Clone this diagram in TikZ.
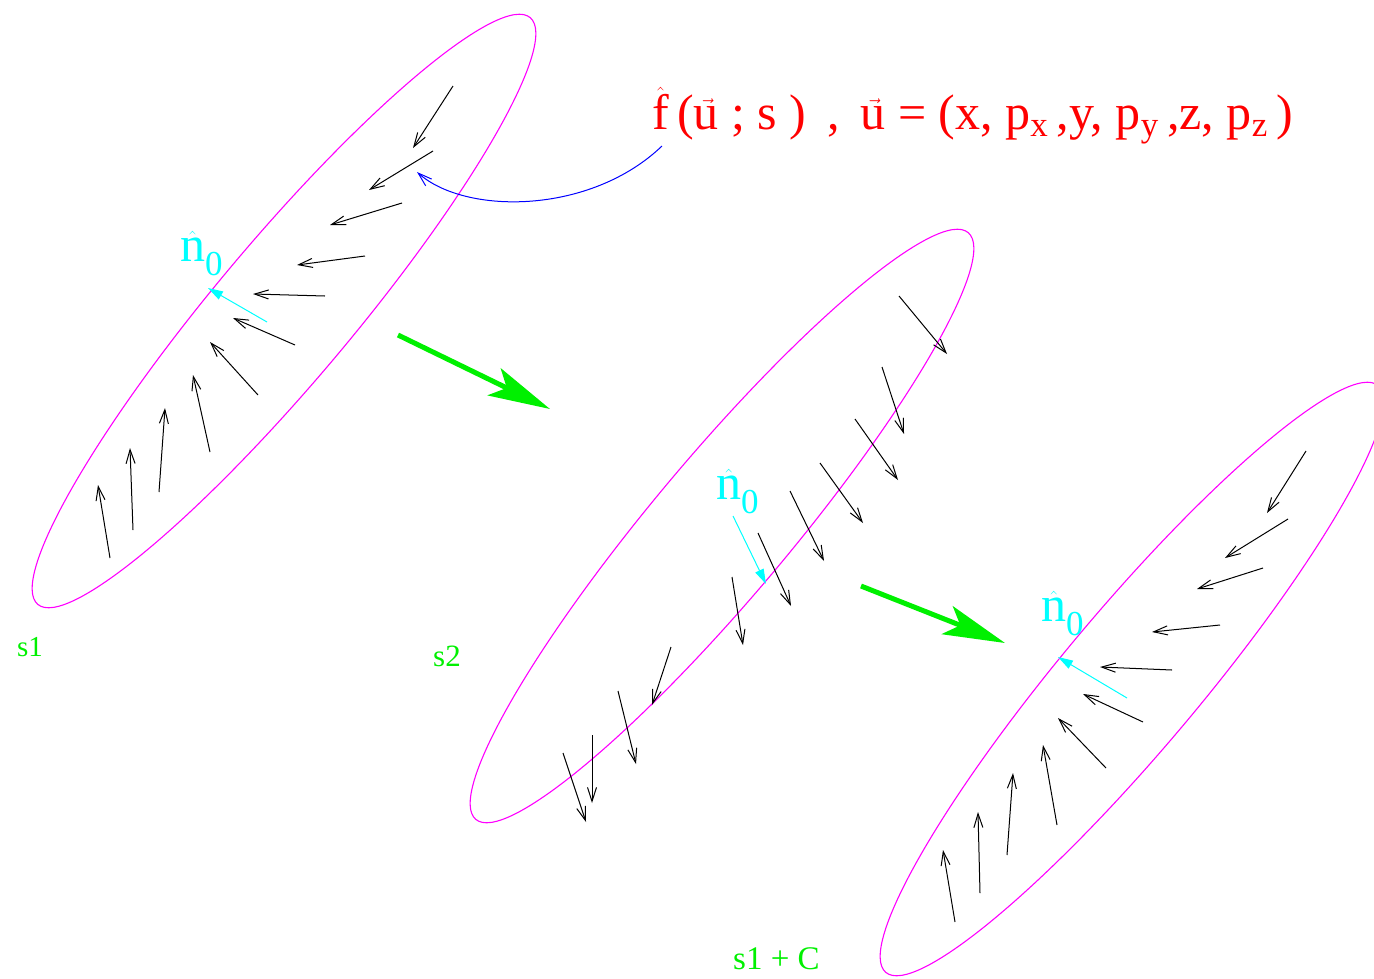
\documentclass[tikz,border=0pt]{standalone}
\usepackage{fontspec}
\setmainfont{Liberation Serif}
\usetikzlibrary{arrows.meta}

\definecolor{xgreen}{RGB}{0,240,0}
\definecolor{xmagenta}{RGB}{255,0,255}
\definecolor{xcyan}{RGB}{0,255,255}
\definecolor{xred}{RGB}{255,0,0}
\definecolor{xblue}{RGB}{0,0,255}

\begin{document}
\begin{tikzpicture}[x=1pt,y=-1pt,
  surface/.style={xmagenta,line width=1.1pt},
  fieldarrow/.style={line width=1pt,-{Straight Barb[length=14pt,width=9pt]}},
  normarrow/.style={xcyan,line width=1pt,-{Triangle[length=15pt,width=9pt]}},
  flowarrow/.style={xgreen,line width=5pt,-{Stealth[length=62pt,width=30pt,inset=14pt]}},
  normlabel/.style={xcyan,anchor=base west,inner sep=0pt,font=\fontsize{50}{60}\selectfont},
  slabel/.style={xgreen,anchor=base west,inner sep=0pt}]
\clip (0,0) rectangle (1374,978);

% the three surfaces
\draw[surface,rotate around={50:(284,311)}] (284,311) ellipse [x radius=383,y radius=69];
\draw[surface,rotate around={50:(722,526)}] (722,526) ellipse [x radius=383,y radius=69];
\draw[surface,rotate around={50:(1132,679)}] (1132,679) ellipse [x radius=383,y radius=69];

% field on s1
\foreach \xa/\ya/\xb/\yb in {453/86/413/148, 433/151/369/190, 402/203/330/225,
  365/256/297/265, 325/296/253/294, 295/345/233/318, 258/395/210/342,
  210/452/193/375, 159/492/165/408, 133/530/130/448, 110/558/98/485}
  \draw[fieldarrow] (\xa,\ya) -- (\xb,\yb);
\draw[normarrow] (267,322) -- (208,288);
\node[normlabel] (nzero1) at (180,261) {$\hat{\mathrm{n}}_{\mathrm{0}}$};

% field on s2
\foreach \xa/\ya/\xb/\yb in {899/296/947/354, 882/367/904/434, 855/419/898/480,
  820/463/863/523, 790/491/824/561, 758/533/791/606, 732/577/743/645,
  671/647/652/705, 618/691/636/764, 592/735/592/803, 563/753/586/822}
  \draw[fieldarrow] (\xa,\ya) -- (\xb,\yb);
\draw[normarrow] (733,516) -- (766,584);
\node[normlabel] (nzero2) at (716,499) {$\hat{\mathrm{n}}_{\mathrm{0}}$};

% field on s1 + C
\foreach \xa/\ya/\xb/\yb in {1306/451/1267/513, 1288/519/1225/558, 1263/568/1197/589,
  1220/625/1152/632, 1172/670/1100/667, 1143/722/1083/694, 1106/768/1058/718,
  1057/825/1043/745, 1007/855/1013/773, 980/893/978/812, 955/922/943/850}
  \draw[fieldarrow] (\xa,\ya) -- (\xb,\yb);
\draw[normarrow] (1127,698) -- (1058,657);
\node[normlabel] (nzero3) at (1041,621) {$\hat{\mathrm{n}}_{\mathrm{0}}$};

% flow between surfaces
\coordinate (flow1a) at (398,335);
\coordinate (flow1b) at (550,409);
\coordinate (flow2a) at (861,586);
\coordinate (flow2b) at (1005,643);
\draw[flowarrow] (flow1a) -- (flow1b);
\draw[flowarrow] (flow2a) -- (flow2b);

% labels
\node[slabel,font=\fontsize{29}{34}\selectfont] (sone) at (17,656) {s1};
\node[slabel,font=\fontsize{31}{36}\selectfont] (stwo) at (433,666) {s2};
\node[slabel,font=\fontsize{33}{40}\selectfont] (sonec) at (733,969) {s1 + C};

\node[xred,anchor=base west,inner sep=0pt,font=\fontsize{50}{60}\selectfont] (fhat) at (652,129)
  {$\hat{\mathrm{f}}$\,($\vec{\mathrm{u}}$ ; s )\ \,,\ \,$\vec{\mathrm{u}}$ = (x, p$_{\mathrm{x}}$\,,y, p$_{\mathrm{y}}$\,,z, p$_{\mathrm{z}}$\,)};
\coordinate (ftail) at (662,146);
\coordinate (fhead) at (417,172);
\draw[xblue,line width=1pt,-{Straight Barb[length=14pt,width=9pt]}] (ftail) .. controls (590,215) and (465,215) .. (fhead);
\end{tikzpicture}
\end{document}
